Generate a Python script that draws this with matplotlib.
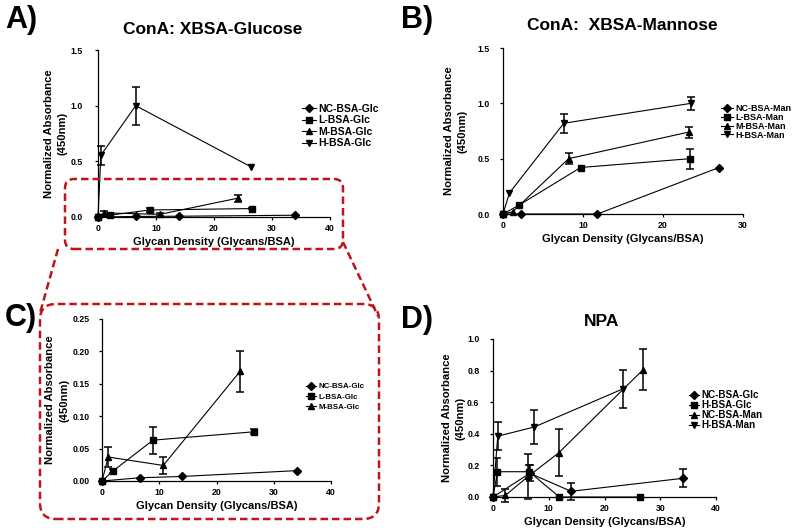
import matplotlib
matplotlib.use("Agg")
import matplotlib.pyplot as plt
import numpy as np
from matplotlib.patches import FancyBboxPatch
from matplotlib.lines import Line2D

plt.rcParams['font.family'] = ['Liberation Sans', 'DejaVu Sans']
plt.rcParams['font.weight'] = 'bold'

# ---------------- data ----------------
# Panel A / C : ConA vs XBSA-Glucose
glc_nc_x = [0, 6.6, 14, 34]
glc_nc_y = [0, 0.005, 0.007, 0.016]
glc_nc_e = [0, 0, 0, 0]
glc_l_x = [0, 2.0, 8.9, 26.6]
glc_l_y = [0, 0.016, 0.063, 0.076]
glc_l_e = [0, 0.003, 0.021, 0.004]
glc_m_x = [0, 1.1, 10.7, 24.1]
glc_m_y = [0, 0.037, 0.024, 0.169]
glc_m_e = [0, 0.015, 0.0125, 0.031]
glc_h_x = [0, 0.5, 6.5, 26.4]
glc_h_y = [0, 0.555, 1.0, 0.45]
glc_h_e = [0, 0.085, 0.17, 0]

# Panel B : ConA vs XBSA-Mannose
man_nc_x = [0, 2.2, 11.8, 27.0]
man_nc_y = [0, 0, 0, 0.42]
man_nc_e = [0, 0, 0, 0]
man_l_x = [0, 2.0, 9.7, 23.4]
man_l_y = [0, 0.08, 0.42, 0.50]
man_l_e = [0, 0, 0, 0.09]
man_m_x = [0, 1.2, 8.2, 23.2]
man_m_y = [0, 0.02, 0.50, 0.74]
man_m_e = [0, 0, 0.05, 0.05]
man_h_x = [0, 0.8, 7.6, 23.5]
man_h_y = [0, 0.19, 0.82, 1.0]
man_h_e = [0, 0, 0.085, 0.06]

# Panel D : NPA
npa_ncg_x = [0, 6.6, 14, 34]
npa_ncg_y = [0, 0.15, 0.036, 0.118]
npa_ncg_e = [0, 0.05, 0.055, 0.057]
npa_hg_x = [0, 0.8, 6.5, 11.9, 26.3]
npa_hg_y = [0, 0.16, 0.16, 0, 0]
npa_hg_e = [0, 0.09, 0.04, 0, 0]
npa_ncm_x = [0, 2.2, 6.3, 11.8, 26.9]
npa_ncm_y = [0, 0.01, 0.13, 0.28, 0.805]
npa_ncm_e = [0, 0.04, 0.14, 0.15, 0.13]
npa_hm_x = [0, 0.85, 7.4, 23.4]
npa_hm_y = [0, 0.385, 0.443, 0.686]
npa_hm_e = [0, 0.09, 0.105, 0.12]

W, H = 800, 531
fig = plt.figure(figsize=(8, 5.31), dpi=100)

ylab = 'Normalized Absorbance\n(450nm)'
xlab = 'Glycan Density (Glycans/BSA)'


def add_axes(l, r, t, b):
    return fig.add_axes([l / W, (H - b) / H, (r - l) / W, (b - t) / H])


def style(ax, xlim, ylim, xt, yt, yfmt, ypad, ylab_x):
    ax.set_xlim(*xlim)
    ax.set_ylim(*ylim)
    ax.set_xticks(xt)
    ax.set_yticks(yt)
    ax.set_yticklabels([yfmt.format(v) for v in yt])
    for s in ['top', 'right']:
        ax.spines[s].set_visible(False)
    for s in ['left', 'bottom']:
        ax.spines[s].set_linewidth(0.9)
    ax.tick_params(direction='out', length=2.5, width=0.9, labelsize=6.3)
    ax.tick_params(axis='x', pad=2.5)
    ax.tick_params(axis='y', pad=ypad)
    for lab in ax.get_xticklabels() + ax.get_yticklabels():
        lab.set_fontweight('bold')
    ax.patch.set_alpha(0)
    ax.set_xlabel(xlab, fontsize=8, fontweight='bold', labelpad=3)
    # y label placed by pixel centre
    bb = ax.get_position()
    fig.text(ylab_x / W, bb.y0 + bb.height / 2, ylab, rotation=90,
             ha='center', va='center', multialignment='center',
             fontsize=8.1, fontweight='bold', linespacing=1.5)


def series(ax, x, y, e, marker, label, ms=5):
    ln, = ax.plot(x, y, '-', color='k', lw=0.8, marker=marker, ms=ms,
                  label=label, clip_on=False, zorder=3)
    x = np.asarray(x); y = np.asarray(y); e = np.asarray(e)
    m = e > 0
    if m.any():
        ax.errorbar(x[m], y[m], yerr=e[m], fmt='none', ecolor='k',
                    elinewidth=1.1, capsize=3, capthick=1.1, clip_on=False, zorder=2)
    return ln


def legend(ax, xpx, ypx, fs, spacing, hl=1.3):
    ax.legend(loc='center left', bbox_to_anchor=(xpx / W, (H - ypx) / H),
              bbox_transform=fig.transFigure, frameon=False,
              handlelength=hl, handletextpad=0.3, labelspacing=spacing,
              borderaxespad=0, borderpad=0, prop={'weight': 'bold', 'size': fs})


# ---- Panel A ----
axA = add_axes(98, 330, 50, 217)
series(axA, glc_nc_x, glc_nc_y, glc_nc_e, 'D', 'NC-BSA-Glc', 4.5)
series(axA, glc_l_x, glc_l_y, glc_l_e, 's', 'L-BSA-Glc')
series(axA, glc_m_x, glc_m_y, glc_m_e, '^', 'M-BSA-Glc')
series(axA, glc_h_x, glc_h_y, glc_h_e, 'v', 'H-BSA-Glc')
style(axA, (0, 40), (0, 1.5), [0, 10, 20, 30, 40], [0, 0.5, 1.0, 1.5], '{:.1f}', 8.7, 55.5)
legend(axA, 302, 126, 7.5, 0.16)

# ---- Panel B ----
axB = add_axes(503, 743, 48, 214)
series(axB, man_nc_x, man_nc_y, man_nc_e, 'D', 'NC-BSA-Man', 4.5)
series(axB, man_l_x, man_l_y, man_l_e, 's', 'L-BSA-Man')
series(axB, man_m_x, man_m_y, man_m_e, '^', 'M-BSA-Man')
series(axB, man_h_x, man_h_y, man_h_e, 'v', 'H-BSA-Man')
style(axB, (0, 30), (0, 1.5), [0, 10, 20, 30], [0, 0.5, 1.0, 1.5], '{:.1f}', 6.8, 456)
legend(axB, 721, 122, 6.5, -0.03)

# ---- Panel C ----
axC = add_axes(102, 331, 319, 481)
series(axC, glc_nc_x, glc_nc_y, glc_nc_e, 'D', 'NC-BSA-Glc', 4.5)
series(axC, glc_l_x, glc_l_y, glc_l_e, 's', 'L-BSA-Glc')
series(axC, glc_m_x, glc_m_y, glc_m_e, '^', 'M-BSA-Glc')
style(axC, (0, 40), (0, 0.25), [0, 10, 20, 30, 40], [0, 0.05, 0.10, 0.15, 0.20, 0.25], '{:.2f}', 6.0, 57.5)
legend(axC, 306, 397, 5.7, 0.35)

# ---- Panel D ----
axD = add_axes(493, 716, 339, 497)
series(axD, npa_ncg_x, npa_ncg_y, npa_ncg_e, 'D', 'NC-BSA-Glc', 4.5)
series(axD, npa_hg_x, npa_hg_y, npa_hg_e, 's', 'H-BSA-Glc')
series(axD, npa_ncm_x, npa_ncm_y, npa_ncm_e, '^', 'NC-BSA-Man')
series(axD, npa_hm_x, npa_hm_y, npa_hm_e, 'v', 'H-BSA-Man')
style(axD, (0, 40), (0, 1.0), [0, 10, 20, 30, 40], [0, 0.2, 0.4, 0.6, 0.8, 1.0], '{:.1f}', 7.3, 454)
legend(axD, 689, 410, 7.1, 0.0, hl=1.0)

# ---- titles / panel letters ----
def ftext(xpx, ypx, s, size, ha='center'):
    fig.text(xpx / W, (H - ypx) / H, s, fontsize=size, fontweight='bold',
             ha=ha, va='center')

ftext(213, 29, 'ConA: XBSA-Glucose', 12.5)
ftext(622, 26, 'ConA:  XBSA-Mannose', 12.5)
ftext(602, 322, 'NPA', 12.5)
ftext(5, 20, 'A)', 22, ha='left')
ftext(401, 20, 'B)', 22, ha='left')
ftext(5, 318, 'C)', 22, ha='left')
ftext(401, 320, 'D)', 22, ha='left')

# ---- red dashed zoom boxes ----
red = '#C0141C'
tr = fig.dpi_scale_trans


def rbox(l, r, t, b, rad):
    p = FancyBboxPatch((l / 100, (H - b) / 100), (r - l) / 100, (b - t) / 100,
                       boxstyle='round,pad=0,rounding_size=%f' % (rad / 100),
                       transform=tr, fill=False, edgecolor=red, lw=1.8,
                       linestyle=(0, (3, 1.6)), zorder=10)
    fig.add_artist(p)


rbox(65, 343, 179, 249, 9)
rbox(40, 379, 304, 519, 16)
for (x0, y0, x1, y1) in [(58, 249, 40, 313), (343, 242, 378, 316)]:
    fig.add_artist(Line2D([x0 / 100, x1 / 100], [(H - y0) / 100, (H - y1) / 100],
                          transform=tr, color=red, lw=1.8, linestyle=(0, (3, 1.6))))

fig.savefig('out.png', dpi=100)
